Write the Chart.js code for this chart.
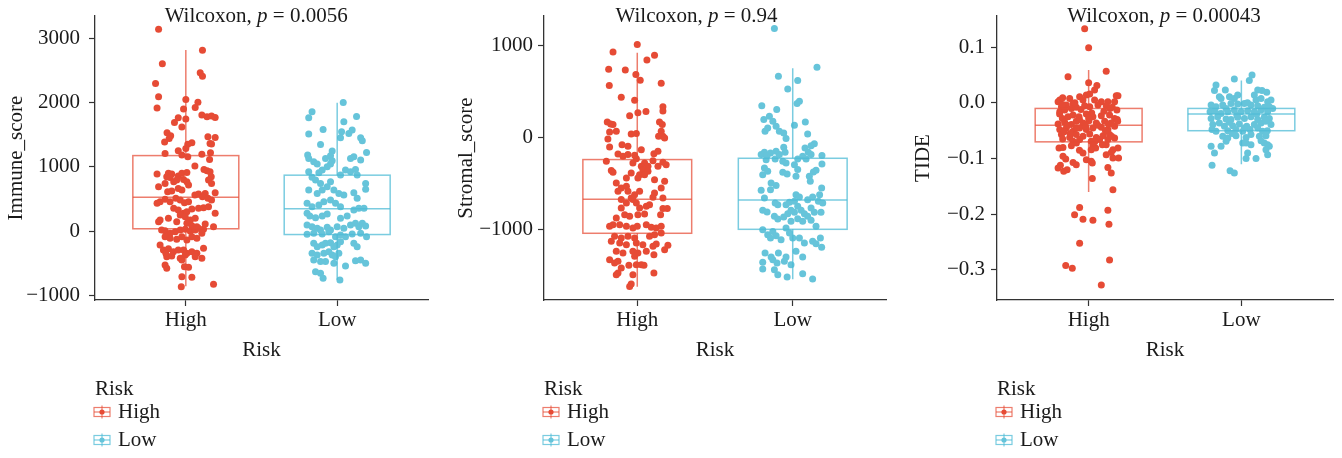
<!DOCTYPE html>
<html>
<head>
<meta charset="utf-8">
<script src="https://cdn.jsdelivr.net/npm/chart.js@4.4.1/dist/chart.umd.min.js"></script>
<style>
  body { margin: 0; background: #fff; width: 1342px; height: 458px; overflow: hidden; position: relative; }
  canvas { position: absolute; top: 0; }
</style>
</head>
<body>
<canvas id="immune" width="449" height="458" style="left:0px"></canvas>
<canvas id="stromal" width="448" height="458" style="left:449px"></canvas>
<canvas id="tide" width="445" height="458" style="left:897px"></canvas>
<script>
const categories = ["High", "Low"];
const legendTitle = "Risk";

const immuneTicks = [-1000, 0, 1000, 2000, 3000];
const stromalTicks = [-1000, 0, 1000];
const tideTicks = [-0.3, -0.2, -0.1, 0.0, 0.1];

const immuneP = "0.0056";
const stromalP = "0.94";
const tideP = "0.00043";

// box stats: [lower whisker, q1, median, q3, upper whisker]
const immuneBox = [[-860, 35, 525, 1175, 2820], [-760, -55, 345, 870, 2000]];
const stromalBox = [[-1624, -1043, -674, -242, 920], [-1543, -1000, -682, -228, 750]];
const tideBox = [[-0.16, -0.07, -0.04, -0.01, 0.059], [-0.11, -0.05, -0.02, -0.01, 0.04]];

// points: [value, jitter]
const immuneHigh = [[3145,-.18],[2818,.11],[2605,-.155],[2465,.095],[2413,.11],[2299,-.2],[2092,-.18],[1915,-.19],[2050,0],[2008,.08],[1925,.062],[1900,-.015],[1806,.106],[1780,.14],[1790,.17],[1770,.194],[1765,-.05],[1744,0],[1692,-.075],[1619,-.026],[1531,-.124],[1484,-.1],[1443,-.11],[1469,.146],[1458,.194],[1365,.16],[1355,.17],[1386,-.14],[1375,.04],[1350,.013],[1287,0],[1251,-.05],[1209,-.137],[1183,-.026],[1157,.013],[1194,.106],[1220,.163],[1012,.06],[1116,.157],[960,.12],[939,.14],[924,.16],[846,.168],[887,-.19],[898,-.115],[887,-.093],[846,-.126],[835,-.104],[856,-.05],[898,-.026],[913,.007],[690,-.18],[742,-.137],[768,-.08],[794,-.06],[804,-.015],[768,.007],[716,.018],[794,.15],[742,.17],[612,-.12],[623,-.093],[664,-.05],[638,-.026],[560,.06],[576,.084],[586,.128],[597,.194],[457,-.17],[431,-.19],[493,-.137],[457,-.104],[509,-.066],[483,-.037],[441,-.009],[457,.018],[535,.11],[509,.146],[483,.17],[353,-.08],[327,-.05],[275,-.015],[301,.007],[342,.04],[353,.084],[363,.117],[379,.15],[275,.194],[249,-.037],[223,-.004],[171,.03],[197,.062],[171,-.17],[145,-.18],[197,-.115],[145,-.06],[119,.007],[83,.04],[67,.073],[109,.128],[67,.183],[16,-.16],[5,-.137],[-36,-.104],[-10,-.07],[16,-.037],[26,-.004],[-5,.03],[16,.062],[41,.084],[26,.117],[-88,-.137],[-114,-.104],[-130,-.06],[-88,-.026],[-140,.007],[-88,.04],[-114,.073],[-36,.106],[-218,-.17],[-296,-.148],[-275,-.115],[-322,-.082],[-296,-.05],[-296,-.015],[-348,.007],[-322,.04],[-348,.073],[-270,.117],[-400,-.126],[-389,-.093],[-426,-.037],[-374,-.004],[-400,.062],[-426,.106],[-529,-.137],[-581,-.126],[-452,-.026],[-555,-.009],[-565,.018],[-711,-.026],[-721,.04],[-867,-.03],[-830,.183],[-348,-.132]];
const immuneLow = [[2003,.04],[1858,-.166],[1765,-.188],[1785,.128],[1702,.044],[1510,-.188],[1583,-.093],[1547,.029],[1521,.077],[1573,.099],[1453,.022],[1453,.155],[1406,.166],[1349,-.11],[1225,.194],[1245,-.033],[1173,-.044],[1183,-.195],[1131,-.188],[1080,-.155],[1043,-.132],[1131,-.077],[1095,-.033],[1043,-.044],[1002,-.066],[1131,.088],[1157,.11],[1105,.155],[950,.055],[924,.088],[960,.121],[872,.132],[924,-.188],[836,-.166],[908,-.121],[950,-.099],[872,.022],[794,-.143],[742,-.11],[768,-.044],[742,.188],[649,.188],[638,-.188],[586,-.132],[638,-.099],[690,-.066],[638,-.022],[586,.011],[560,.044],[597,.11],[509,.132],[431,-.199],[379,-.166],[405,-.121],[457,-.088],[483,-.044],[431,-.011],[379,.022],[327,.11],[353,.143],[353,.177],[275,-.199],[233,-.181],[207,-.143],[233,-.099],[265,-.066],[197,.022],[233,.066],[93,-.199],[67,-.166],[41,-.132],[16,-.11],[57,-.066],[16,-.044],[67,0],[41,.044],[93,.088],[119,.121],[67,.143],[119,.166],[78,.188],[-52,-.199],[-36,-.155],[-47,-.099],[-10,-.055],[-88,-.011],[-62,.022],[-88,.055],[-47,.099],[-36,.155],[-88,.194],[-192,-.155],[-244,-.132],[-218,-.099],[-192,-.077],[-182,-.044],[-244,-.022],[-218,0],[-166,.022],[-348,-.166],[-374,-.132],[-348,-.088],[-322,-.055],[-374,-.033],[-400,-.011],[-348,.011],[-192,.11],[-244,.132],[-452,-.155],[-477,-.11],[-477,-.077],[-503,-.022],[-462,.121],[-452,.155],[-503,.188],[-545,.055],[-633,-.143],[-659,-.11],[-737,-.093],[-763,.018]];
const stromalHigh = [[1007,0],[927,-.156],[891,.111],[840,.062],[739,-.184],[732,-.077],[681,-.009],[620,.019],[562,-.18],[587,.154],[435,-.103],[402,-.017],[279,.056],[268,.004],[235,-.049],[333,.165],[286,.165],[167,-.193],[145,-.171],[138,-.156],[167,.143],[138,.161],[58,-.178],[65,-.135],[36,-.039],[40,-.006],[65,.154],[11,.137],[11,.165],[-7,.176],[-18,-.189],[-105,-.178],[-80,-.098],[-98,-.06],[-181,-.124],[-207,-.092],[-188,-.06],[-196,-.017],[-178,.107],[-152,.133],[-134,.026],[-261,-.199],[-232,-.006],[-279,-.028],[-279,.047],[-254,.101],[-272,.165],[-297,.186],[-315,.026],[-315,.069],[-315,.133],[-362,-.167],[-380,-.156],[-351,.036],[-370,.069],[-388,-.039],[-406,.015],[-442,.004],[-442,-.07],[-406,.047],[-460,.111],[-478,.176],[-496,-.135],[-551,-.103],[-532,-.07],[-587,-.124],[-623,-.017],[-659,-.039],[-587,.015],[-587,-.06],[-677,-.103],[-714,-.07],[-677,-.028],[-714,-.006],[-605,.111],[-652,.101],[-659,.165],[-551,.154],[-750,.058],[-732,.079],[-768,.015],[-768,-.103],[-775,.165],[-775,.193],[-841,.15],[-877,-.135],[-841,-.081],[-859,-.049],[-841,.004],[-833,.047],[-967,-.178],[-949,-.156],[-949,-.113],[-967,-.07],[-985,-.028],[-967,0],[-949,.058],[-978,.09],[-985,.122],[-967,.154],[-1040,.154],[-1076,-.146],[-1094,-.103],[-1076,-.06],[-1094,-.017],[-1076,.079],[-1058,.111],[-1130,-.167],[-1149,-.113],[-1167,-.07],[-1149,-.006],[-1167,.036],[-1185,.101],[-1160,.122],[-1239,-.135],[-1257,-.092],[-1239,-.028],[-1257,.004],[-1239,.058],[-1221,.176],[-1174,.197],[-1330,-.178],[-1366,-.146],[-1348,-.124],[-1293,-.017],[-1384,-.006],[-1275,.107],[-1420,-.103],[-1391,-.054],[-1384,.026],[-1391,.043],[-1475,-.124],[-1493,-.135],[-1493,-.028],[-1475,.107],[-1594,-.039],[-1620,-.049]];
const stromalLow = [[1181,-.118],[761,.156],[663,-.092],[616,.032],[525,-.032],[391,.043],[366,.028],[344,-.199],[301,-.103],[228,-.15],[192,-.186],[167,.081],[130,.011],[174,-.128],[120,-.107],[65,-.086],[101,-.161],[65,-.178],[47,-.058],[-14,-.043],[36,.096],[-69,.139],[-91,.118],[-116,.079],[-163,.1],[-199,.188],[-188,-.203],[-163,-.182],[-199,-.165],[-170,-.143],[-243,-.171],[-152,-.107],[-188,-.086],[-109,-.058],[-163,-.049],[-236,.032],[-207,.064],[-236,.086],[-188,.118],[-236,-.113],[-261,-.064],[-279,-.043],[-290,.188],[-359,.15],[-377,.133],[-333,-.182],[-406,-.193],[-370,-.161],[-380,-.064],[-398,-.036],[-297,.011],[-351,.032],[-424,.021],[-496,-.139],[-525,-.107],[-569,-.143],[-424,.107],[-478,.113],[-576,-.203],[-659,-.182],[-551,.186],[-623,.173],[-696,.165],[-714,.193],[-649,.128],[-623,.021],[-649,.043],[-696,.011],[-707,-.021],[-678,.096],[-732,-.096],[-714,-.113],[-732,-.043],[-750,.032],[-793,.054],[-815,.011],[-830,.075],[-793,-.193],[-812,-.165],[-768,.118],[-815,.139],[-815,.182],[-859,-.118],[-888,-.096],[-866,-.058],[-830,-.032],[-793,-.011],[-913,-.011],[-884,.032],[-913,.064],[-859,.096],[-902,.118],[-967,.15],[-1004,-.193],[-1058,-.161],[-1094,-.143],[-1025,-.128],[-1069,-.107],[-1112,-.075],[-985,-.043],[-1040,-.021],[-1094,0],[-1094,.043],[-1148,.075],[-1130,.128],[-1156,.15],[-1094,.178],[-1196,.186],[-1257,-.178],[-1301,-.139],[-1257,-.092],[-1301,-.043],[-1239,.021],[-1301,.064],[-1359,-.193],[-1330,-.128],[-1366,-.101],[-1348,-.054],[-1384,-.011],[-1431,-.193],[-1438,-.118],[-1493,-.096],[-1518,-.036],[-1482,.064],[-1540,.128]];
const tideHigh = [[0.133,-.026],[0.099,0],[0.057,.115],[0.047,-.135],[0.036,0],[0.031,.054],[0.023,.039],[0.002,-.2],[0.005,-.189],[0.008,-.124],[0.011,-.059],[0.014,-.015],[0.016,.007],[0.013,.181],[0.013,.192],[0.002,.17],[0.002,.126],[-0.007,-.178],[-0.004,-.146],[-0.001,-.102],[0.005,-.037],[0.005,.039],[0.002,.083],[-0.016,-.189],[-0.013,-.157],[-0.010,-.113],[-0.008,-.081],[-0.005,-.026],[-0.007,.007],[-0.004,.061],[-0.005,.115],[-0.008,.155],[-0.013,.185],[-0.028,-.172],[-0.025,-.135],[-0.022,-.102],[-0.025,-.063],[-0.020,-.015],[-0.025,.028],[-0.023,.083],[-0.022,.137],[-0.028,.17],[-0.038,-.2],[-0.035,-.157],[-0.039,-.113],[-0.033,-.081],[-0.036,-.037],[-0.032,.002],[-0.036,.05],[-0.033,.105],[-0.036,.148],[-0.030,.187],[-0.048,-.189],[-0.045,-.146],[-0.051,-.102],[-0.045,-.059],[-0.048,-.015],[-0.045,.028],[-0.044,.083],[-0.048,.126],[-0.042,.17],[-0.057,-.178],[-0.062,-.124],[-0.057,-.081],[-0.060,-.037],[-0.056,.007],[-0.062,.05],[-0.059,.094],[-0.057,.137],[-0.063,.17],[-0.069,-.102],[-0.066,-.059],[-0.069,.017],[-0.066,.072],[-0.066,.126],[-0.081,-.194],[-0.080,-.168],[-0.077,-.113],[-0.077,.028],[-0.081,.046],[-0.075,.115],[-0.084,.159],[-0.081,.192],[-0.090,-.037],[-0.084,.017],[-0.093,.115],[-0.096,-.168],[-0.101,-.15],[-0.107,-.102],[-0.111,-.081],[-0.102,-.015],[-0.105,.017],[-0.108,.024],[-0.089,.148],[-0.099,.159],[-0.099,.196],[-0.116,.126],[-0.126,.148],[-0.117,-.2],[-0.112,-.185],[-0.123,-.163],[-0.120,-.141],[-0.136,.024],[-0.156,.159],[-0.188,-.059],[-0.201,-.092],[-0.209,-.037],[-0.211,.028],[-0.193,.126],[-0.218,.133],[-0.252,-.059],[-0.282,.137],[-0.292,-.15],[-0.297,-.107],[-0.327,.083],[-0.003,-.17],[0.0,-.09],[-0.012,-.05],[-0.018,.02],[-0.015,.1],[-0.02,-.19],[-0.03,-.06],[-0.04,-.14],[-0.042,-.02],[-0.04,.06],[-0.038,.13],[-0.052,-.16],[-0.05,.11],[-0.055,-.12],[-0.065,-.17],[-0.07,.04],[-0.072,-.08],[-0.075,.09],[-0.085,-.06],[-0.01,.14],[0.009,-.17],[-0.027,0],[-0.045,-.08],[-0.06,.15],[-0.033,.19]];
const tideLow = [[0.050,.07],[0.040,.052],[0.043,-.046],[0.032,-.166],[0.022,-.176],[0.023,-.105],[0.023,.107],[0.022,.135],[0.019,.166],[0.014,.085],[0.011,-.144],[0.008,-.133],[0.011,-.078],[0.008,-.046],[0.014,-.024],[0.005,.096],[0.008,.129],[0.002,.172],[0.005,.194],[-0.004,-.198],[-0.007,-.166],[-0.004,-.122],[-0.001,-.068],[-0.002,-.024],[-0.001,.02],[-0.004,.063],[-0.005,.107],[-0.008,.15],[-0.007,.183],[-0.016,-.205],[-0.014,-.176],[-0.019,-.133],[-0.016,-.089],[-0.013,-.046],[-0.016,-.002],[-0.014,.041],[-0.016,.085],[-0.013,.129],[-0.016,.172],[-0.010,.205],[-0.028,-.198],[-0.025,-.155],[-0.029,-.1],[-0.030,-.068],[-0.026,-.024],[-0.028,.02],[-0.025,.063],[-0.030,.107],[-0.026,.15],[-0.028,.183],[-0.039,-.187],[-0.036,-.144],[-0.042,-.111],[-0.041,-.057],[-0.038,-.013],[-0.042,.035],[-0.039,.085],[-0.036,.129],[-0.048,-.192],[-0.051,-.166],[-0.050,-.089],[-0.048,-.035],[-0.051,.009],[-0.048,.057],[-0.045,.107],[-0.051,.139],[-0.039,.194],[-0.060,-.122],[-0.063,-.089],[-0.059,-.035],[-0.062,.031],[-0.057,.063],[-0.060,.118],[-0.059,.161],[-0.072,.15],[-0.075,.172],[-0.078,.183],[-0.068,.129],[-0.078,-.198],[-0.078,-.133],[-0.069,-.1],[-0.072,.031],[-0.075,.063],[-0.072,.009],[-0.090,-.176],[-0.084,.161],[-0.093,.172],[-0.090,.041],[-0.100,.096],[-0.100,.031],[-0.112,-.192],[-0.122,-.074],[-0.126,-.046],[-0.02,-.15],[-0.035,-.08],[-0.045,.02],[-0.02,.1],[-0.033,.16],[-0.055,-.06],[-0.01,-.1],[0.0,.04],[-0.022,-.03],[-0.05,.17]];

const pointColors = ["#E64B35", "#66C4DA"];
const boxColors = ["rgba(230,75,53,0.72)", "rgba(77,187,213,0.75)"];
const axisColor = "#333333";
const textColor = "#1a1a1a";
const serif = '"Liberation Serif", "DejaVu Serif", serif';
const fontSize = 21;

function minus(s) { return String(s).replace("-", "\u2212"); }

const boxPlugin = {
    id: "boxes",
    afterDatasetsDraw(chart, args, opts) {
        const { ctx, scales: { x, y } } = chart;
        opts.stats.forEach((s, i) => {
            const c = i + 1;
            const l = x.getPixelForValue(c - 0.35), r = x.getPixelForValue(c + 0.35), m = x.getPixelForValue(c);
            const [lo, q1, med, q3, hi] = s.map(v => y.getPixelForValue(v));
            ctx.save();
            ctx.strokeStyle = boxColors[i];
            ctx.lineWidth = 1.5;
            ctx.beginPath();
            ctx.moveTo(m, hi); ctx.lineTo(m, q3);
            ctx.moveTo(m, q1); ctx.lineTo(m, lo);
            ctx.stroke();
            ctx.strokeRect(l, q3, r - l, q1 - q3);
            ctx.beginPath();
            ctx.moveTo(l, med); ctx.lineTo(r, med);
            ctx.stroke();
            ctx.restore();
        });
    },
    afterDraw(chart, args, opts) {
        const { ctx, chartArea, scales: { x } } = chart;
        ctx.save();
        ctx.fillStyle = textColor;
        ctx.textBaseline = "alphabetic";
        ctx.textAlign = "left";
        // p-value label
        let tx = x.getPixelForValue(0.86);
        const ty = chartArea.top + 6;
        const parts = [["Wilcoxon, ", ""], ["p", "italic "], [" = " + opts.p, ""]];
        parts.forEach(([t, st]) => {
            ctx.font = st + fontSize + "px " + serif;
            ctx.fillText(t, tx, ty);
            tx += ctx.measureText(t).width;
        });
        // legend
        const lx = chartArea.left;
        ctx.font = fontSize + "px " + serif;
        ctx.fillText(legendTitle, lx, chartArea.bottom + 95);
        categories.forEach((cat, i) => {
            const cy = chartArea.bottom + 112 + i * 28;
            ctx.strokeStyle = boxColors[i];
            ctx.lineWidth = 1.2;
            ctx.beginPath();
            ctx.moveTo(lx + 7, cy - 6.5); ctx.lineTo(lx + 7, cy + 6.5);
            ctx.stroke();
            ctx.strokeRect(lx - 1, cy - 4.5, 16, 9);
            ctx.beginPath();
            ctx.moveTo(lx - 1, cy); ctx.lineTo(lx + 15, cy);
            ctx.stroke();
            ctx.fillStyle = pointColors[i];
            ctx.beginPath();
            ctx.arc(lx + 7, cy, 2.6, 0, Math.PI * 2);
            ctx.fill();
            ctx.fillStyle = textColor;
            ctx.fillText(cat, lx + 23, cy + 6);
        });
        ctx.restore();
    }
};

function makeChart(id, cfg) {
    new Chart(document.getElementById(id), {
        type: "scatter",
        data: {
            datasets: cfg.points.map((pts, i) => ({
                label: categories[i],
                data: pts.map(([v, j]) => ({ x: i + 1 + j, y: v })),
                backgroundColor: pointColors[i],
                borderWidth: 0,
                pointRadius: 3.5,
                pointHoverRadius: 3.5
            }))
        },
        options: {
            responsive: false,
            animation: false,
            devicePixelRatio: 1,
            layout: { padding: { top: 16, right: cfg.padRight, bottom: 95, left: 0 } },
            plugins: {
                legend: { display: false },
                tooltip: { enabled: false },
                boxes: { stats: cfg.box, p: cfg.p }
            },
            scales: {
                x: {
                    type: "linear",
                    min: 0.4,
                    max: 2.6,
                    afterBuildTicks: s => { s.ticks = [{ value: 1 }, { value: 2 }]; },
                    afterFit: s => { s.height = 63; s.paddingLeft = 0; s.paddingRight = 0; },
                    ticks: { callback: v => categories[v - 1], color: textColor, font: { family: serif, size: fontSize }, padding: 2, maxRotation: 0 },
                    grid: { display: true, drawOnChartArea: false, drawTicks: true, tickLength: 6, tickColor: axisColor, tickWidth: 1.2 },
                    border: { display: true, color: axisColor, width: 1.3 },
                    title: { display: true, text: legendTitle, color: textColor, font: { family: serif, size: fontSize }, padding: 0 }
                },
                y: {
                    min: cfg.min,
                    max: cfg.max,
                    afterBuildTicks: s => { s.ticks = cfg.ticks.map(v => ({ value: v })); },
                    afterFit: s => { s.width = cfg.axisWidth; s.paddingTop = 0; s.paddingBottom = 0; },
                    ticks: { callback: cfg.fmt, color: textColor, font: { family: serif, size: fontSize }, padding: cfg.tickPad },
                    grid: { display: true, drawOnChartArea: false, drawTicks: true, tickLength: 6, tickColor: axisColor, tickWidth: 1.2 },
                    border: { display: true, color: axisColor, width: 1.3 },
                    title: { display: true, text: cfg.title, color: textColor, font: { family: serif, size: fontSize }, padding: { top: cfg.titlePad, bottom: 0 } }
                }
            }
        },
        plugins: [boxPlugin]
    });
}

makeChart("immune", {
    points: [immuneHigh, immuneLow], box: immuneBox, p: immuneP,
    ticks: immuneTicks, min: -1075, max: 3350, fmt: v => minus(v),
    title: "Immune_score", axisWidth: 95, padRight: 21, titlePad: 4, tickPad: 9
});
makeChart("stromal", {
    points: [stromalHigh, stromalLow], box: stromalBox, p: stromalP,
    ticks: stromalTicks, min: -1768, max: 1318, fmt: v => minus(v),
    title: "Stromal_score", axisWidth: 95, padRight: 11, titlePad: 5, tickPad: 5
});
makeChart("tide", {
    points: [tideHigh, tideLow], box: tideBox, p: tideP,
    ticks: tideTicks, min: -0.354, max: 0.156, fmt: v => minus(v.toFixed(1)),
    title: "TIDE", axisWidth: 100, padRight: 9, titlePad: 14, tickPad: 6
});
</script>
</body>
</html>
